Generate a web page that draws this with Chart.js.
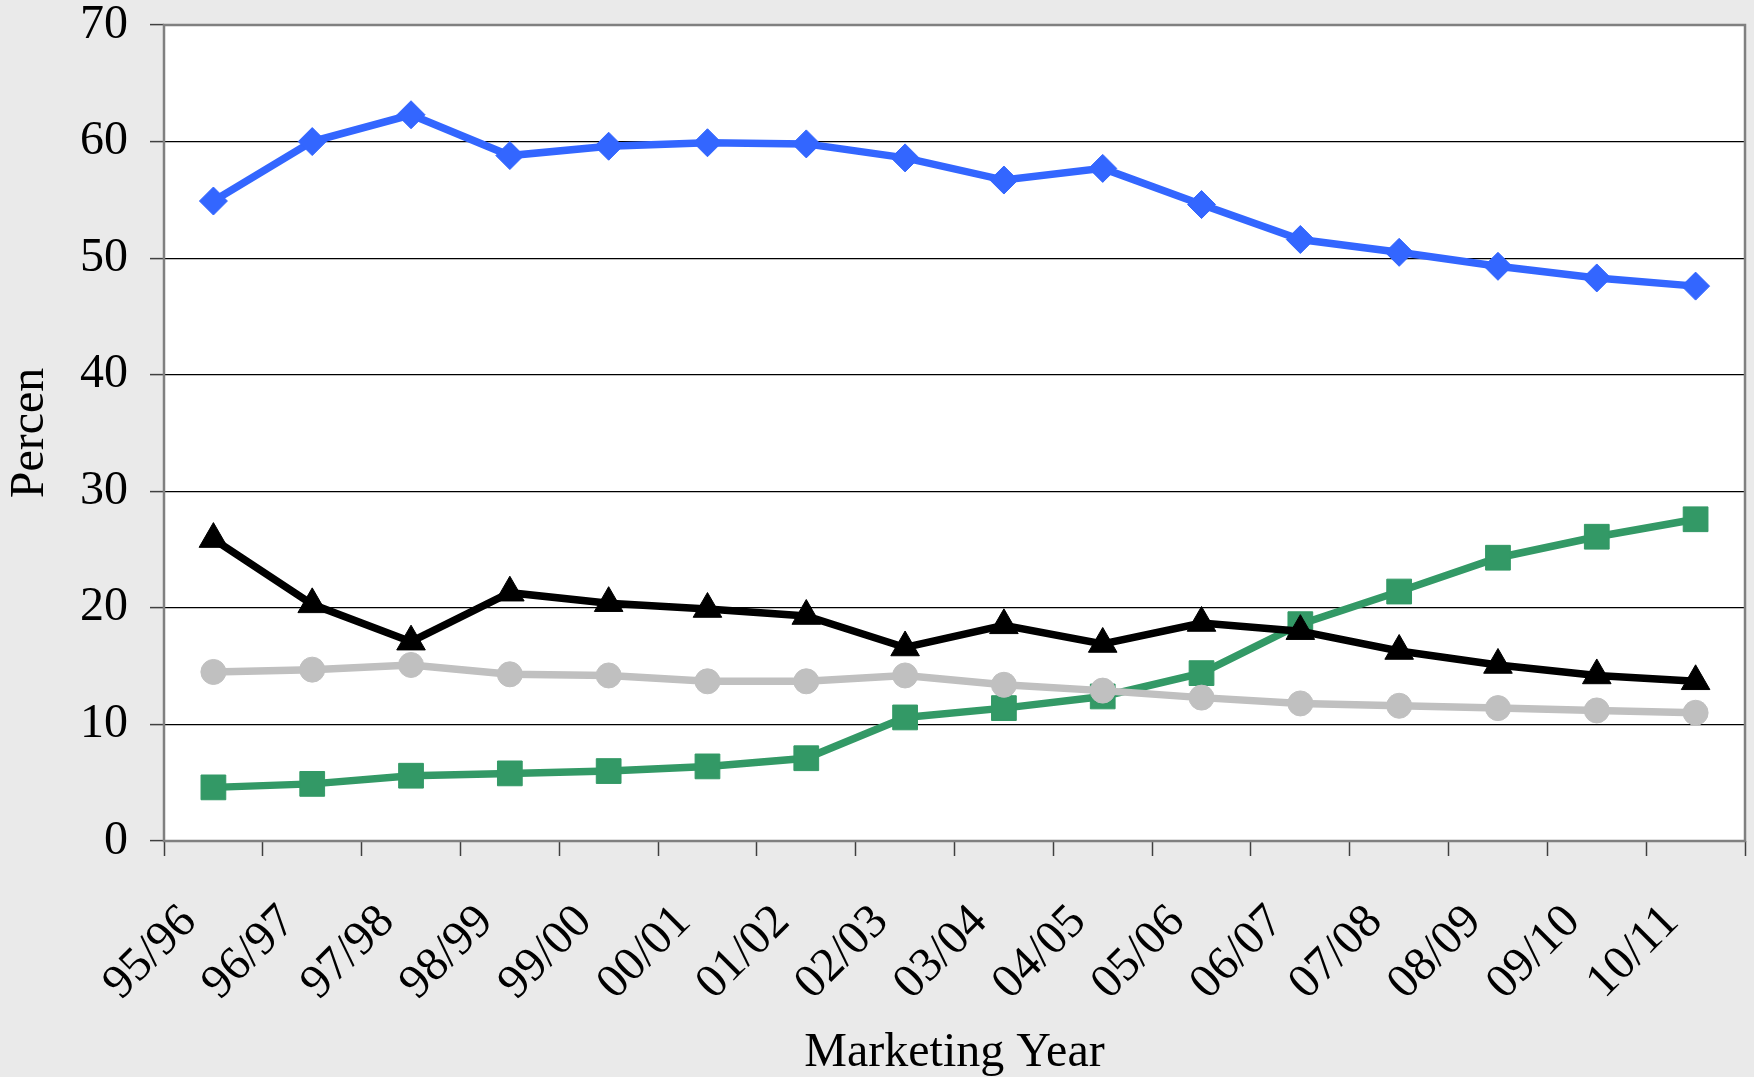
<!DOCTYPE html>
<html>
<head>
<meta charset="utf-8">
<script src="https://cdn.jsdelivr.net/npm/chart.js@4.4.1/dist/chart.umd.min.js"></script>
<style>
  html, body { margin: 0; padding: 0; background: #eaeaea; }
  canvas { display: block; }
</style>
</head>
<body>
<canvas id="chart" width="1754" height="1077"></canvas>
<script>
// Anos de comercialização
const years = ['95/96', '96/97', '97/98', '98/99', '99/00', '00/01', '01/02', '02/03',
               '03/04', '04/05', '05/06', '06/07', '07/08', '08/09', '09/10', '10/11'];

// Séries (percentual)
const blueSeries  = [54.9, 60.0, 62.3, 58.8, 59.6, 59.9, 59.8, 58.6, 56.7, 57.7, 54.6, 51.6, 50.5, 49.3, 48.3, 47.6];
const blackSeries = [25.9, 20.3, 17.1, 21.3, 20.4, 19.9, 19.3, 16.6, 18.5, 16.9, 18.7, 18.0, 16.3, 15.1, 14.2, 13.7];
const greySeries  = [14.5, 14.7, 15.1, 14.3, 14.2, 13.7, 13.7, 14.2, 13.4, 12.9, 12.3, 11.8, 11.6, 11.4, 11.2, 11.0];
const greenSeries = [4.6, 4.9, 5.6, 5.8, 6.0, 6.4, 7.1, 10.6, 11.4, 12.4, 14.4, 18.6, 21.4, 24.3, 26.1, 27.6];

const yTicks = [0, 10, 20, 30, 40, 50, 60, 70];

const serif = "'Liberation Serif', 'Times New Roman', serif";

// Fundo cinza e área do gráfico branca com borda
const plotBackground = {
    id: 'plotBackground',
    beforeDraw(chart) {
        const ctx = chart.ctx;
        const a = chart.chartArea;
        ctx.save();
        ctx.fillStyle = '#eaeaea';
        ctx.fillRect(0, 0, chart.width, chart.height);
        ctx.fillStyle = '#ffffff';
        ctx.fillRect(a.left, a.top, a.right - a.left, a.bottom - a.top);
        ctx.restore();
    },
    beforeDatasetsDraw(chart) {
        const ctx = chart.ctx;
        const a = chart.chartArea;
        ctx.save();
        ctx.strokeStyle = '#808080';
        ctx.lineWidth = 2.5;
        ctx.strokeRect(a.left, a.top, a.right - a.left, a.bottom - a.top);
        ctx.restore();
    }
};

function lineDataset(data, color, style, radius) {
    return {
        data: data,
        borderColor: color,
        backgroundColor: color,
        borderWidth: 7.5,
        pointStyle: style,
        pointRadius: radius,
        pointHoverRadius: radius,
        pointBorderWidth: 1,
        pointBorderColor: color,
        tension: 0,
        fill: false
    };
}

const chart = new Chart(document.getElementById('chart').getContext('2d'), {
    type: 'line',
    data: {
        labels: years,
        datasets: [
            lineDataset(blueSeries, '#3366ff', 'rectRot', 14),
            lineDataset(blackSeries, '#000000', 'triangle', 16.5),
            lineDataset(greySeries, '#c0c0c0', 'circle', 12.5),
            lineDataset(greenSeries, '#339966', 'rect', 17.5)
        ]
    },
    options: {
        responsive: false,
        animation: false,
        devicePixelRatio: 1,
        layout: { autoPadding: false, padding: { top: 25, right: 9, left: 0, bottom: 0 } },
        plugins: {
            legend: { display: false },
            tooltip: { enabled: false }
        },
        scales: {
            x: {
                offset: true,
                afterFit(scale) {
                    scale.height = 236;
                    scale.paddingLeft = 0;
                    scale.paddingRight = 0;
                },
                grid: {
                    offset: true,
                    drawOnChartArea: false,
                    tickLength: 15,
                    tickColor: '#404040',
                    tickWidth: 1.5
                },
                border: { display: false },
                ticks: {
                    color: '#000',
                    font: { family: serif, size: 48 },
                    minRotation: 45,
                    maxRotation: 45,
                    padding: 38,
                    labelOffset: -24
                },
                title: {
                    display: true,
                    text: 'Marketing Year',
                    color: '#000',
                    font: { family: serif, size: 48, lineHeight: 1.0 },
                    padding: { top: 0, bottom: 0 }
                }
            },
            y: {
                min: 0,
                max: 70,
                afterFit(scale) {
                    scale.width = 164;
                    scale.paddingTop = 0;
                    scale.paddingBottom = 0;
                },
                afterBuildTicks(scale) { scale.ticks = yTicks.map(v => ({ value: v })); },
                grid: {
                    color: ctx => (ctx.tick && (ctx.tick.value === 0 || ctx.tick.value === 70)) ? 'rgba(0,0,0,0)' : '#000000',
                    lineWidth: 1.2,
                    tickLength: 14,
                    tickColor: '#404040',
                    tickWidth: 1.5
                },
                border: { display: false },
                ticks: {
                    color: '#000',
                    font: { family: serif, size: 48 },
                    padding: 22
                },
                title: {
                    display: true,
                    text: 'Percen',
                    color: '#000',
                    font: { family: serif, size: 48, lineHeight: 1.0 },
                    padding: { top: 6, bottom: 0 }
                }
            }
        }
    },
    plugins: [plotBackground]
});
</script>
</body>
</html>
